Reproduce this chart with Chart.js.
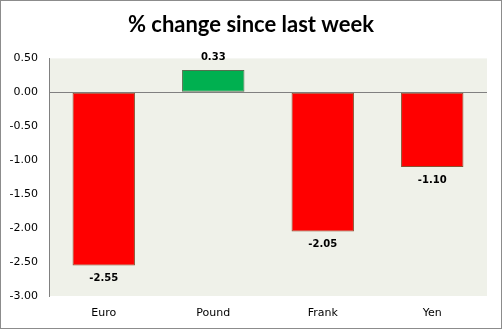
<!DOCTYPE html>
<html>
<head>
<meta charset="utf-8">
<script src="https://cdn.jsdelivr.net/npm/chart.js@4"></script>
<style>
  html, body { margin: 0; padding: 0; background: #fff; }
  #wrap { width: 502px; height: 329px; box-sizing: border-box; border: 1px solid #8c8c8c; position: relative; }
  canvas { display: block; }
</style>
</head>
<body>
<div id="wrap"><canvas id="chart" width="500" height="327"></canvas></div>
<script>
const currencies = ["Euro", "Pound", "Frank", "Yen"];
const changes = [-2.55, 0.33, -2.05, -1.10];
const yTicks = [0.5, 0, -0.5, -1, -1.5, -2, -2.5, -3];

const upColor = "#00B050";
const downColor = "#FF0000";

// light plot background
const plotBg = {
  id: "plotBg",
  beforeDraw(chart) {
    const { ctx, chartArea: a } = chart;
    ctx.save();
    ctx.fillStyle = "#EFF1E9";
    ctx.fillRect(a.left, a.top, a.right - a.left, a.bottom - a.top);
    ctx.restore();
  },
};

// value labels above / below each bar
const valueLabels = {
  id: "valueLabels",
  afterDatasetsDraw(chart) {
    const { ctx } = chart;
    const meta = chart.getDatasetMeta(0);
    ctx.save();
    ctx.font = "bold 10px 'DejaVu Sans'";
    ctx.fillStyle = "#000";
    ctx.textAlign = "center";
    ctx.textBaseline = "middle";
    meta.data.forEach((bar, i) => {
      const v = changes[i];
      const y = v >= 0 ? bar.y - 13 : bar.y + 13;
      ctx.fillText(v.toFixed(2), bar.x, y);
    });
    ctx.restore();
  },
};

new Chart(document.getElementById("chart"), {
  type: "bar",
  data: {
    labels: currencies,
    datasets: [
      {
        data: changes,
        backgroundColor: changes.map((v) => (v >= 0 ? upColor : downColor)),
        borderColor: changes.map((v) => (v >= 0 ? "#557050" : "#8A5030")),
        borderWidth: 1,
        borderSkipped: false,
        barPercentage: 0.57,
        categoryPercentage: 1,
      },
    ],
  },
  options: {
    responsive: false,
    animation: false,
    layout: { padding: 0 },
    plugins: {
      legend: { display: false },
      tooltip: { enabled: false },
      title: {
        display: true,
        text: "% change since last week",
        color: "#000",
        font: { family: "Lato", size: 22, weight: "bold" },
        padding: { top: 11, bottom: 20 },
      },
    },
    scales: {
      x: {
        grid: { display: false, drawTicks: false },
        border: { display: false },
        ticks: { color: "#000", font: { family: "DejaVu Sans", size: 11 }, padding: 11 },
        afterFit(scale) { scale.height = 32; },
      },
      y: {
        min: -3,
        max: 0.5,
        afterBuildTicks(scale) { scale.ticks = yTicks.map((v) => ({ value: v })); },
        grid: {
          drawTicks: false,
          color: (c) => (c.tick && c.tick.value === 0 ? "#808080" : "rgba(0,0,0,0)"),
          lineWidth: 1,
        },
        border: { display: true, color: "#808080" },
        ticks: {
          color: "#000",
          font: { family: "DejaVu Sans", size: 11 },
          padding: 11,
          callback: (v) => Number(v).toFixed(2),
        },
        afterFit(scale) { scale.width = 48; },
      },
      // empty right-hand spacer so the title stays centred on the canvas
      spacer: {
        position: "right",
        min: 0,
        max: 1,
        grid: { display: false, drawTicks: false },
        border: { display: false },
        ticks: { display: false },
        afterFit(scale) { scale.width = 14; },
      },
    },
  },
  plugins: [plotBg, valueLabels],
});
</script>
</body>
</html>
